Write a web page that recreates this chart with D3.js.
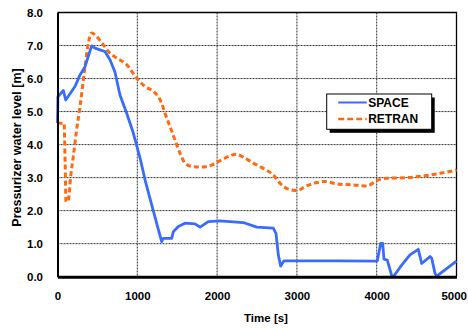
<!DOCTYPE html>
<html>
<head>
<meta charset="utf-8">
<script src="https://cdn.jsdelivr.net/npm/d3@7"></script>
<style>
  html, body { margin: 0; padding: 0; background: #fff; }
  svg { display: block; }
  text { font-family: Arial, "Liberation Sans", sans-serif; font-weight: bold; fill: #000; }
</style>
</head>
<body>
<svg id="chart" width="468" height="329"></svg>
<script>
// SPACE calculation: time [s] and pressurizer level [m]
const spaceTime = [0, 5, 73, 103, 157, 219, 282, 345, 386, 428, 470, 533, 595, 658, 720, 783, 867, 950, 1034, 1100, 1200, 1305, 1326, 1431, 1451, 1514, 1598, 1723, 1786, 1890, 2036, 2162, 2328, 2496, 2704, 2738, 2767, 2797, 2838, 2913, 3500, 3991, 4008, 4050, 4075, 4091, 4133, 4188, 4208, 4313, 4417, 4521, 4564, 4668, 4689, 4731, 4752, 5000];
const spaceLevel = [4.65, 5.45, 5.64, 5.35, 5.54, 5.76, 6.11, 6.36, 6.67, 6.99, 6.92, 6.87, 6.82, 6.57, 6.2, 5.5, 4.95, 4.35, 3.6, 2.9, 2.0, 1.06, 1.16, 1.16, 1.36, 1.52, 1.62, 1.60, 1.50, 1.67, 1.69, 1.67, 1.64, 1.50, 1.47, 1.31, 0.66, 0.32, 0.48, 0.48, 0.48, 0.47, 0.48, 1.01, 1.01, 0.53, 0.50, 0.03, 0.00, 0.35, 0.66, 0.83, 0.40, 0.61, 0.56, 0.10, 0.02, 0.47];

// RETRAN calculation
const retranTime = [0, 82, 96, 107, 136, 165, 198, 240, 282, 345, 386, 428, 491, 574, 658, 742, 867, 992, 1096, 1201, 1263, 1305, 1347, 1410, 1472, 1535, 1598, 1702, 1807, 1932, 2057, 2162, 2237, 2328, 2454, 2579, 2704, 2788, 2892, 2997, 3123, 3248, 3352, 3499, 3707, 3875, 3937, 4000, 4125, 4376, 4584, 4793, 5000];
const retranLevel = [4.65, 4.65, 3.4, 2.27, 2.32, 3.03, 3.64, 4.45, 5.15, 6.36, 7.07, 7.38, 7.27, 7.02, 6.77, 6.62, 6.42, 6.01, 5.76, 5.61, 5.45, 5.25, 4.95, 4.55, 4.14, 3.74, 3.44, 3.33, 3.32, 3.38, 3.54, 3.66, 3.71, 3.62, 3.44, 3.28, 3.08, 2.83, 2.65, 2.61, 2.75, 2.85, 2.88, 2.81, 2.78, 2.75, 2.81, 2.91, 2.98, 3.00, 3.05, 3.13, 3.23];

const xTicks = [0, 1000, 2000, 3000, 4000, 5000];
const yTicks = [0, 1, 2, 3, 4, 5, 6, 7, 8];
const seriesNames = ["SPACE", "RETRAN"];

const svg = d3.select("#chart");
const plotLeft = 57.5, plotRight = 456.5, plotTop = 12.5, plotBottom = 276.7;

const x = d3.scaleLinear().domain([0, 5000]).range([plotLeft, plotRight]);
const y = d3.scaleLinear().domain([0, 8]).range([plotBottom, plotTop]);

// dotted grid
const grid = svg.append("g");
grid.selectAll(".gx").data(xTicks.slice(1, -1)).enter().append("line")
  .attr("x1", d => x(d)).attr("x2", d => x(d))
  .attr("y1", plotTop).attr("y2", plotBottom)
  .attr("stroke", "#333").attr("stroke-width", 1).attr("stroke-dasharray", "2,1");
grid.selectAll(".gy").data(yTicks.slice(1, -1)).enter().append("line")
  .attr("x1", plotLeft).attr("x2", plotRight)
  .attr("y1", d => y(d)).attr("y2", d => y(d))
  .attr("stroke", "#333").attr("stroke-width", 1).attr("stroke-dasharray", "2,1");

// frame (top and right)
svg.append("path")
  .attr("d", `M${plotLeft},${plotTop}H${plotRight}V${plotBottom}`)
  .attr("fill", "none").attr("stroke", "#000").attr("stroke-width", 1.3);

// series
const spaceData = spaceTime.map((t, i) => [t, spaceLevel[i]]);
const retranData = retranTime.map((t, i) => [t, retranLevel[i]]);

svg.append("path")
  .datum(retranData)
  .attr("d", d3.line().x(d => x(d[0])).y(d => y(d[1])).curve(d3.curveMonotoneX))
  .attr("fill", "none").attr("stroke", "#ff6a10").attr("stroke-width", 3)
  .attr("stroke-dasharray", "5,3");

svg.append("path")
  .datum(spaceData)
  .attr("d", d3.line().x(d => x(d[0])).y(d => y(d[1])))
  .attr("fill", "none").attr("stroke", "#3a6df5").attr("stroke-width", 2.8)
  .attr("stroke-linejoin", "round");

// axes
const xAxis = svg.append("g").attr("transform", `translate(0,${plotBottom})`)
  .call(d3.axisBottom(x).tickValues(xTicks).tickSize(0).tickPadding(15).tickFormat(d3.format("d")));
xAxis.select(".domain").attr("stroke", "#000").attr("stroke-width", 3);
xAxis.selectAll("text").attr("font-size", "11.5px").attr("font-family", "Arial, 'Liberation Sans', sans-serif").attr("font-weight", "bold").attr("fill", "#000");
// keep the last label inside the canvas
xAxis.selectAll(".tick").filter(d => d === xTicks[xTicks.length - 1])
  .select("text").attr("text-anchor", "end").attr("x", 10);

const yAxis = svg.append("g").attr("transform", `translate(${plotLeft},0)`)
  .call(d3.axisLeft(y).tickValues(yTicks).tickSize(0).tickPadding(14.5).tickFormat(d3.format(".1f")));
yAxis.select(".domain").attr("stroke", "#000").attr("stroke-width", 2);
yAxis.selectAll("text").attr("font-size", "11.5px").attr("font-family", "Arial, 'Liberation Sans', sans-serif").attr("font-weight", "bold").attr("fill", "#000");

// axis titles
svg.append("text").attr("x", 266).attr("y", 322).attr("text-anchor", "middle")
  .attr("font-size", "11.5px").text("Time [s]");
svg.append("text").attr("transform", "translate(21,147.5) rotate(-90)")
  .attr("text-anchor", "middle").attr("font-size", "12.5px").text("Pressurizer water level [m]");

// legend
const lg = svg.append("g");
const lx = 326.7, ly = 94, lw = 105, lh = 35.3;
lg.append("rect").attr("x", lx + 3).attr("y", ly + 3.5).attr("width", lw).attr("height", lh).attr("fill", "#000");
lg.append("rect").attr("x", lx).attr("y", ly).attr("width", lw).attr("height", lh)
  .attr("fill", "#fff").attr("stroke", "#000").attr("stroke-width", 1);
const legendStyles = [
  { color: "#3a6df5", dash: null, width: 2 },
  { color: "#ff6a10", dash: "6,3", width: 2.5 }
];
seriesNames.forEach((name, i) => {
  const yy = ly + 8.5 + i * 16.5;
  lg.append("line").attr("x1", lx + 11.5).attr("x2", lx + 40)
    .attr("y1", yy).attr("y2", yy)
    .attr("stroke", legendStyles[i].color).attr("stroke-width", legendStyles[i].width)
    .attr("stroke-dasharray", legendStyles[i].dash);
  lg.append("text").attr("x", lx + 41.5).attr("y", yy + 4.3)
    .attr("font-size", "12px").text(name);
});
</script>
</body>
</html>
